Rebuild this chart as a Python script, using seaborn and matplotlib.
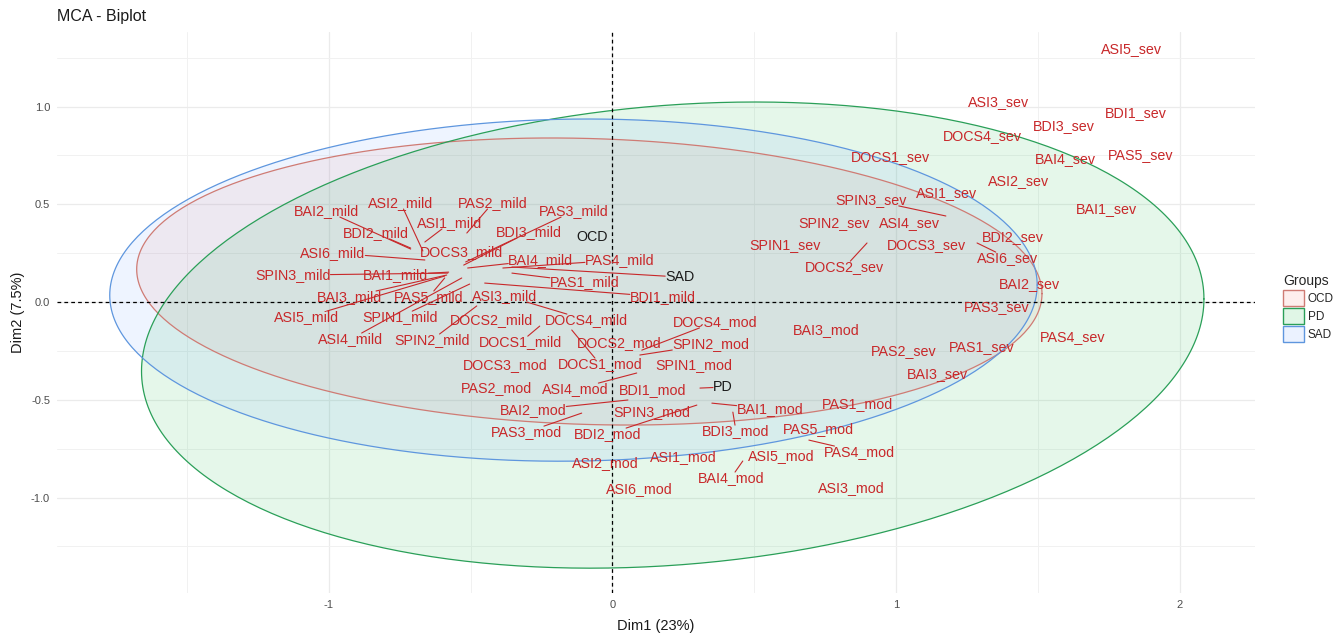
import numpy as np
import pandas as pd
import matplotlib
matplotlib.use("Agg")
import matplotlib.pyplot as plt
from matplotlib.patches import Patch
from matplotlib.colors import to_rgba
import seaborn as sns

nan = np.nan

# MCA variable categories: where the text sits (Dim1, Dim2)
var_labels = [
    "BAI2_mild", "ASI2_mild", "PAS2_mild", "PAS3_mild", "ASI1_mild", "BDI2_mild",
    "BDI3_mild", "ASI6_mild", "DOCS3_mild", "BAI4_mild", "PAS4_mild", "SPIN3_mild",
    "BAI1_mild", "PAS1_mild", "BDI1_mild", "BAI3_mild", "PAS5_mild", "ASI3_mild",
    "ASI5_mild", "SPIN1_mild", "DOCS2_mild", "DOCS4_mild", "ASI4_mild", "SPIN2_mild",
    "DOCS1_mild",
    "DOCS4_mod", "DOCS2_mod", "SPIN2_mod", "DOCS3_mod", "DOCS1_mod", "SPIN1_mod",
    "PAS2_mod", "ASI4_mod", "BDI1_mod", "BAI2_mod", "SPIN3_mod", "BAI1_mod",
    "PAS1_mod", "PAS3_mod", "BDI2_mod", "BDI3_mod", "PAS5_mod", "PAS4_mod",
    "ASI2_mod", "ASI1_mod", "ASI5_mod", "BAI4_mod", "ASI6_mod", "ASI3_mod",
    "BAI3_mod",
    "ASI5_sev", "ASI3_sev", "BDI1_sev", "BDI3_sev", "DOCS4_sev", "DOCS1_sev",
    "BAI4_sev", "PAS5_sev", "ASI2_sev", "ASI1_sev", "BAI1_sev", "SPIN3_sev",
    "SPIN2_sev", "ASI4_sev", "SPIN1_sev", "DOCS3_sev", "BDI2_sev", "DOCS2_sev",
    "ASI6_sev", "BAI2_sev", "PAS3_sev", "PAS4_sev", "PAS2_sev", "PAS1_sev",
    "BAI3_sev",
]
lab_x = [
    -1.007, -0.746, -0.422, -0.136, -0.573, -0.834, -0.295, -0.986, -0.531, -0.252,
    0.026, -1.127, -0.764, -0.097, 0.178, -0.926, -0.647, -0.379, -1.078, -0.750,
    -0.425, -0.090, -0.922, -0.637, -0.323,
    0.362, 0.026, 0.347, -0.379, -0.044, 0.287, -0.407, -0.129, 0.143, -0.280,
    0.139, 0.556, 0.866, -0.302, -0.016, 0.436, 0.728, 0.873, -0.023, 0.252,
    0.594, 0.418, 0.097, 0.841, 0.753,
    1.829, 1.360, 1.847, 1.593, 1.303, 0.982, 1.596, 1.861, 1.434, 1.180,
    1.741, 0.912, 0.781, 1.046, 0.608, 1.106, 1.413, 0.820, 1.395, 1.469,
    1.356, 1.624, 1.028, 1.303, 1.148,
]
lab_y = [
    0.465, 0.506, 0.506, 0.465, 0.404, 0.353, 0.358, 0.251, 0.256, 0.215,
    0.215, 0.138, 0.138, 0.102, 0.026, 0.026, 0.026, 0.031, -0.077, -0.077,
    -0.092, -0.092, -0.189, -0.194, -0.205,
    -0.102, -0.210, -0.215, -0.322, -0.317, -0.322, -0.440, -0.445, -0.450, -0.552,
    -0.563, -0.547, -0.522, -0.665, -0.675, -0.660, -0.650, -0.767, -0.824, -0.793,
    -0.788, -0.900, -0.957, -0.951, -0.143,
    1.294, 1.023, 0.967, 0.900, 0.849, 0.742, 0.731, 0.752, 0.619, 0.558,
    0.476, 0.522, 0.404, 0.404, 0.292, 0.292, 0.332, 0.179, 0.225, 0.092,
    -0.026, -0.179, -0.251, -0.230, -0.368,
]
# category point coordinates where a repel segment is drawn (nan = no segment)
pt_x = [
    -0.711, -0.668, -0.513, -0.517, -0.661, -0.711, -0.524, -0.661, nan, -0.510,
    -0.386, -0.580, -0.577, -0.354, -0.450, -0.584, -0.591, nan, -0.591, -0.503,
    nan, -0.302, -0.531, -0.478, -0.256,
    0.104, nan, 0.097, nan, -0.143, nan, nan, 0.086, nan, 0.055,
    nan, 0.351, nan, -0.108, 0.298, 0.425, nan, 0.693, nan, nan,
    nan, 0.460, nan, nan, nan,
    nan, nan, nan, nan, nan, nan, nan, nan, nan, nan,
    nan, 1.176, nan, nan, nan, nan, nan, 0.898, 1.286, nan,
    nan, nan, nan, nan, nan,
]
pt_y = [
    0.271, 0.261, 0.353, 0.205, 0.307, 0.276, 0.189, 0.215, nan, 0.174,
    0.174, 0.148, 0.153, 0.148, 0.097, 0.138, 0.123, nan, 0.133, 0.092,
    nan, 0.000, 0.123, -0.020, -0.123,
    -0.246, nan, -0.271, nan, -0.143, nan, nan, -0.363, nan, -0.501,
    nan, -0.517, nan, -0.568, -0.527, -0.563, nan, -0.706, nan, nan,
    nan, -0.813, nan, nan, nan,
    nan, nan, nan, nan, nan, nan, nan, nan, nan, nan,
    nan, 0.440, nan, nan, nan, nan, nan, 0.302, 0.302, nan,
    nan, nan, nan, nan, nan,
]

# supplementary groups (centroid labels)
grp_labels = ["OCD", "SAD", "PD"]
grp_lab_x = [-0.072, 0.238, 0.390]
grp_lab_y = [0.332, 0.128, -0.435]
grp_pt_x = [nan, -0.354, 0.309]
grp_pt_y = [nan, 0.179, -0.440]

# concentration ellipses: centre, half extents on each axis, correlation
groups = ["OCD", "PD", "SAD"]
ell_cx = [-0.081, 0.213, -0.137]
ell_cy = [0.105, -0.169, 0.061]
ell_hx = [1.596, 1.873, 1.635]
ell_hy = [0.734, 1.192, 0.875]
ell_r = [-0.085, 0.155, 0.03]

fill_col = {"OCD": "#F8766D", "PD": "#00BA38", "SAD": "#619CFF"}
edge_col = {"OCD": "#CF7B74", "PD": "#2A9F58", "SAD": "#5E96DE"}
LAB_COL = "#C8282A"

sns.set_style("whitegrid")
plt.rcParams["font.family"] = ["Liberation Sans", "DejaVu Sans"]
plt.rcParams["axes.unicode_minus"] = False

W, H = 1339, 635
fig = plt.figure(figsize=(W / 100, H / 100), dpi=100)
ax = fig.add_axes([57 / W, 1 - 593 / H, (1255 - 57) / W, (593 - 32) / H])

# ellipse outlines
t = np.linspace(0, 2 * np.pi, 361)
parts = []
for g, cx, cy, hx, hy, r in zip(groups, ell_cx, ell_cy, ell_hx, ell_hy, ell_r):
    ex = cx + hx * np.cos(t)
    ey = cy + hy * (r * np.cos(t) + np.sqrt(1 - r * r) * np.sin(t))
    parts.append(pd.DataFrame({"x": ex, "y": ey, "Groups": g}))
ell = pd.concat(parts, ignore_index=True)

for g in groups:
    d = ell[ell["Groups"] == g]
    ax.fill(d["x"], d["y"], color=fill_col[g], alpha=0.1, lw=0, zorder=1)
sns.lineplot(data=ell, x="x", y="y", hue="Groups", palette=edge_col,
             sort=False, estimator=None, legend=False, lw=0.9, ax=ax, zorder=2)

ax.axhline(0, color="black", lw=0.9, ls=(0, (3, 2.5)), zorder=3)
ax.axvline(0, color="black", lw=0.9, ls=(0, (3, 2.5)), zorder=3)

ax.set_xlim(-1.958, 2.266)
ax.set_ylim(-1.488, 1.381)
ax.set_xticks([-1, 0, 1, 2])
ax.set_xticklabels(["-1", "0", "1", "2"])
ax.set_yticks([-1, -0.5, 0, 0.5, 1])
ax.set_yticklabels(["-1.0", "-0.5", "0.0", "0.5", "1.0"])
ax.set_xticks([-1.5, -0.5, 0.5, 1.5], minor=True)
ax.set_yticks([-1.25, -0.75, -0.25, 0.25, 0.75, 1.25], minor=True)
ax.grid(which="major", color="#EBEBEB", lw=0.9)
ax.grid(which="minor", color="#F1F1F1", lw=0.7)
ax.set_axisbelow(True)
ax.tick_params(which="major", length=3, width=0.8, color="#333333",
               labelsize=8, labelcolor="#4D4D4D", pad=2)
ax.tick_params(which="minor", length=0)
sns.despine(ax=ax, left=True, bottom=True)
ax.set_xlabel("")
ax.set_ylabel("")

texts = []
for name, x, y in zip(var_labels, lab_x, lab_y):
    texts.append(ax.text(x, y, name, ha="center", va="center", fontsize=10.3,
                         color=LAB_COL, zorder=5))
for name, x, y in zip(grp_labels, grp_lab_x, grp_lab_y):
    texts.append(ax.text(x, y, name, ha="center", va="center", fontsize=10.3,
                         color="#1A1A1A", zorder=5))
all_px = list(pt_x) + list(grp_pt_x)
all_py = list(pt_y) + list(grp_pt_y)
seg_cols = [LAB_COL] * len(var_labels) + [LAB_COL] * len(grp_labels)

# repel-style segments: from the point to the edge of the label box
fig.canvas.draw()
rend = fig.canvas.get_renderer()
inv = ax.transData.inverted()
for txt, px, py, col in zip(texts, all_px, all_py, seg_cols):
    if np.isnan(px):
        continue
    bb = txt.get_window_extent(rend).expanded(1.0, 0.85)
    P = ax.transData.transform((px, py))
    C = np.array([(bb.x0 + bb.x1) / 2, (bb.y0 + bb.y1) / 2])
    d = C - P
    s = 0.0
    for k, (lo, hi) in enumerate([(bb.x0, bb.x1), (bb.y0, bb.y1)]):
        if abs(d[k]) > 1e-9:
            s = max(s, min((lo - P[k]) / d[k], (hi - P[k]) / d[k]))
    if s <= 0:
        continue
    E = inv.transform(P + s * d)
    ax.plot([px, E[0]], [py, E[1]], color=col, lw=0.8, zorder=4)

fig.text(57 / W, 1 - 17 / H, "MCA - Biplot", ha="left", va="center",
         fontsize=11.5, color="#1A1A1A")
fig.text(656 / W, 1 - 626 / H, "Dim1 (23%)", ha="center", va="center",
         fontsize=10.5, color="#1A1A1A")
fig.text(18 / W, 1 - 312 / H, "Dim2 (7.5%)", ha="center", va="center",
         rotation=90, fontsize=10.5, color="#1A1A1A")

handles = [Patch(facecolor=to_rgba(fill_col[g], 0.12), edgecolor=edge_col[g],
                 lw=1.0, label=g) for g in groups]
fig.legend(handles=handles, title="Groups", loc="upper left",
           bbox_to_anchor=(1277 / W, 1 - 268 / H), frameon=False,
           fontsize=8.5, title_fontsize=10, handlelength=1.75,
           handleheight=1.75, labelspacing=0.15, handletextpad=0.35,
           borderpad=0, alignment="left")

fig.savefig("out.png", dpi=100)
